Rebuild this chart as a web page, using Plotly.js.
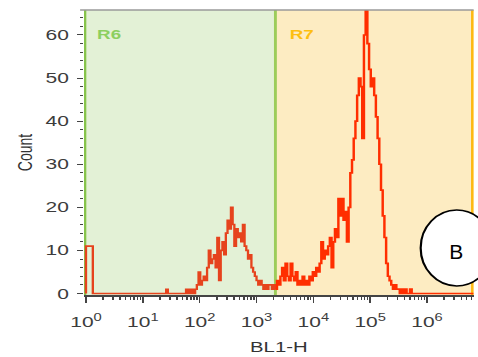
<!DOCTYPE html>
<html><head><meta charset="utf-8">
<script src="https://cdn.plot.ly/plotly-3.0.1.min.js"></script>
<style>
html,body{margin:0;padding:0;overflow:hidden;background:#fff;width:478px;height:357px;}
#wrap{position:relative;width:478px;height:357px;overflow:hidden;}
#chart{position:absolute;left:0;top:0;width:330px;height:357px;transform:scaleX(1.44848);transform-origin:0 0;}
</style></head><body><div id="wrap"><div id="chart"></div></div>
<script>
// ---- data ----
const lowBinLog   = [0.00, 0.12, 1.41, 1.44, 1.76, 1.79];
const lowBinCount = [11, 0, 1, 0, 1, 0];
const mainStartLog = 1.80;
const mainBinWidthLog = 0.03;
const mainCounts = [
  1,0,1,0,1,2,5,2,3,4,
  3,6,10,7,8,9,6,13,3,10,
  12,9,14,17,15,20,16,11,15,13,
  14,12,16,11,10,8,9,6,5,4,
  3,2,3,2,1,2,1,2,2,1,
  2,1,3,2,4,6,3,7,4,3,
  7,4,3,5,2,3,2,4,2,3,
  2,4,3,5,4,6,5,7,12,8,
  10,9,11,13,6,12,15,13,22,18,
  22,17,19,12,20,28,31,36,40,46,
  50,48,36,60,68,58,52,48,50,46,
  41,36,30,24,18,13,7,4,3,2,
  1,2,1,1,0,1,0,1,0,0,1
];
const endLog = 6.82;
const gateR6 = [0.955, 2150];
const gateR7 = [2150, 6.3e6];
const regionNames = ['R6', 'R7'];
const regionLabelLog = [0.14, 3.54];
const regionLabelY = 60;
const xTickExp = [0, 1, 2, 3, 4, 5, 6];
const xTitle = 'BL1-H';
const yTitle = 'Count';
const badge = 'B';

// ---- build step histogram ----
const pts = [[10 ** lowBinLog[0], 0]];
for (let i = 0; i < lowBinLog.length; i++) pts.push([10 ** lowBinLog[i], lowBinCount[i]]);
for (let i = 0; i < mainCounts.length; i++) pts.push([10 ** (mainStartLog + i * mainBinWidthLog), mainCounts[i]]);
pts.push([10 ** (mainStartLog + mainCounts.length * mainBinWidthLog), 0]);
pts.push([10 ** endLog, 0]);

const gate = gateR6[1];
const segA = [], segB = [];
let last = 0;
for (const [x, y] of pts) {
  if (x < gate) { segA.push([x, y]); last = y; }
  else {
    if (!segB.length) { segA.push([gate, last]); segB.push([gate, last]); }
    segB.push([x, y]);
  }
}

const font = 'Liberation Sans, Arial, sans-serif';
const traces = [
  {x: segA.map(p => p[0]), y: segA.map(p => p[1]), type: 'scatter', mode: 'lines',
   line: {shape: 'hv', color: '#e6431d', width: 1.6}, hoverinfo: 'skip'},
  {x: segB.map(p => p[0]), y: segB.map(p => p[1]), type: 'scatter', mode: 'lines',
   line: {shape: 'hv', color: '#ff2e00', width: 1.7}, hoverinfo: 'skip'}
];

const minorVals = [];
for (let e = 0; e <= 6; e++) for (let m = 2; m <= 9; m++) { const v = m * 10 ** e; if (Math.log10(v) < endLog) minorVals.push(v); }

const layout = {
  width: 330, height: 357,
  margin: {l: 58, r: 2.8, t: 10, b: 61.5},
  paper_bgcolor: '#fff', plot_bgcolor: '#fff',
  showlegend: false,
  xaxis: {
    type: 'log', range: [-0.035, endLog], fixedrange: true,
    tickmode: 'array', tickvals: xTickExp.map(e => 10 ** e),
    ticktext: xTickExp.map(e => '10<sup>' + e + '</sup>'),
    ticks: 'outside', ticklen: 6, tickwidth: 1, tickcolor: '#444',
    ticklabelstandoff: 7,
    showline: true, linecolor: '#444', linewidth: 1.5,
    showgrid: false, zeroline: false,
    tickfont: {family: font, size: 14.5, color: '#3c3c3c'},
    minor: {tickmode: 'array', tickvals: minorVals, ticks: 'outside', ticklen: 3, tickwidth: 1, tickcolor: '#444', showgrid: false},
    title: {text: xTitle, font: {family: font, size: 14, color: '#333'}, standoff: 13}
  },
  yaxis: {
    range: [-0.35, 65.8], fixedrange: true,
    tick0: 0, dtick: 10,
    ticks: 'outside', ticklen: 3.5, tickwidth: 1, tickcolor: '#444',
    ticklabelstandoff: 3,
    showline: false, showgrid: false, zeroline: false,
    tickfont: {family: font, size: 14.5, color: '#3c3c3c'},
    minor: {dtick: 2, ticks: 'outside', ticklen: 2, tickwidth: 1, tickcolor: '#444', showgrid: false},
    title: {text: yTitle, font: {family: font, size: 14, color: '#333'}, standoff: 5}
  },
  shapes: [
    {type: 'rect', xref: 'x', yref: 'paper', x0: gateR6[0], x1: gateR6[1], y0: 0, y1: 1, fillcolor: '#e3f1d6', line: {width: 0}, layer: 'below'},
    {type: 'rect', xref: 'x', yref: 'paper', x0: gateR7[0], x1: gateR7[1], y0: 0, y1: 1, fillcolor: '#fdecc2', line: {width: 0}, layer: 'below'},
    {type: 'line', xref: 'x', yref: 'paper', x0: gateR6[0], x1: gateR6[0], y0: 0, y1: 1, line: {color: '#86c34a', width: 2}, layer: 'below'},
    {type: 'line', xref: 'x', yref: 'paper', x0: gateR6[1], x1: gateR6[1], y0: 0, y1: 1, line: {color: '#9ccc5a', width: 2}, layer: 'below'},
    {type: 'line', xref: 'x', yref: 'paper', x0: gateR7[1], x1: gateR7[1], y0: 0, y1: 1, line: {color: '#fdb913', width: 2}, layer: 'below'},
    {type: 'line', xref: 'paper', yref: 'paper', x0: -0.01, x1: 1, y0: 1, y1: 1, line: {color: '#9a9a9a', width: 1.5}},
    {type: 'circle', xref: 'paper', yref: 'paper', x0: 0.864, x1: 1.049, y0: 0.032, y1: 0.298, fillcolor: '#fff', line: {color: '#000', width: 1.5}, layer: 'above'}
  ],
  annotations: [
    {xref: 'x', yref: 'y', x: regionLabelLog[0], y: regionLabelY, text: '<b>' + regionNames[0] + '</b>', showarrow: false, xanchor: 'left', yanchor: 'middle', font: {family: font, size: 13, color: '#8ccf5f'}},
    {xref: 'x', yref: 'y', x: regionLabelLog[1], y: regionLabelY, text: '<b>' + regionNames[1] + '</b>', showarrow: false, xanchor: 'left', yanchor: 'middle', font: {family: font, size: 13, color: '#fdbf12'}},
    {xref: 'paper', yref: 'paper', x: 0.9566, y: 0.152, text: badge, showarrow: false, xanchor: 'center', yanchor: 'middle', font: {family: font, size: 21, color: '#000'}}
  ]
};

Plotly.newPlot('chart', traces, layout, {staticPlot: true, displayModeBar: false}).then(() => {
  document.querySelectorAll('#chart text.annotation-text').forEach(t => {
    if (t.textContent === badge) {
      t.style.transformBox = 'fill-box';
      t.style.transformOrigin = 'center';
      t.style.transform = 'scaleX(0.69)';
    }
  });
});
</script></body></html>
